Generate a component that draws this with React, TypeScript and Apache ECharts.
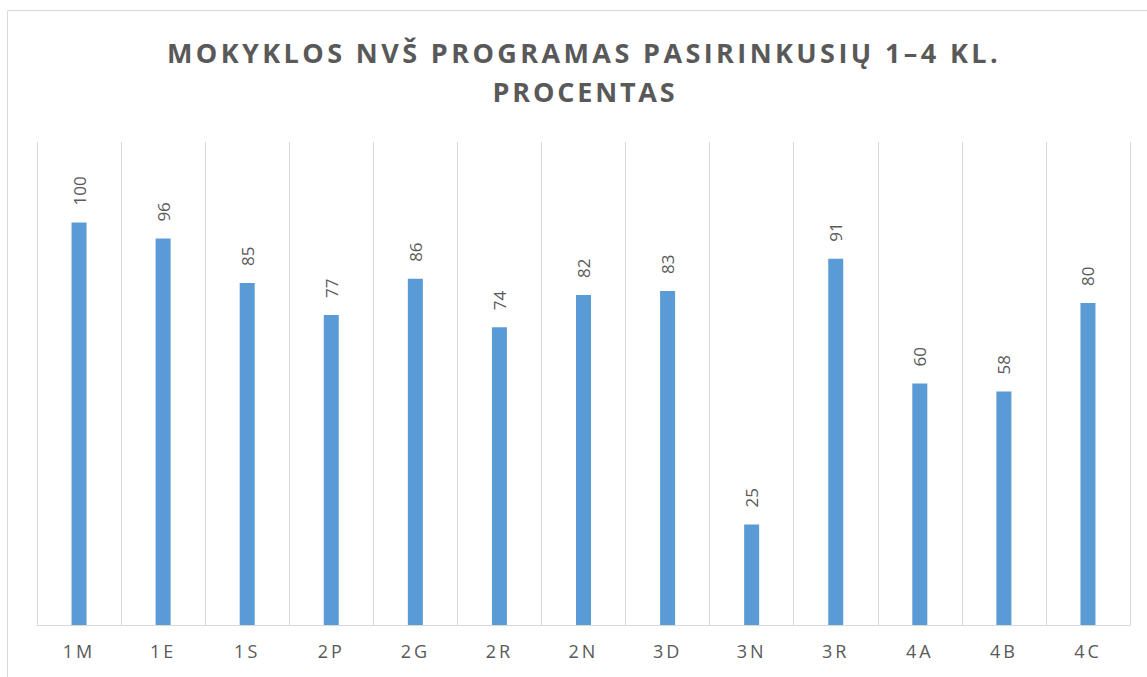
import React, { useEffect, useRef } from "react";
import * as echarts from "echarts";

const titleLine1 = "MOKYKLOS NVŠ PROGRAMAS PASIRINKUSIŲ 1–4 KL.";
const titleLine2 = "PROCENTAS";
const categories = ["1M", "1E", "1S", "2P", "2G", "2R", "2N", "3D", "3N", "3R", "4A", "4B", "4C"];
const values = [100, 96, 85, 77, 86, 74, 82, 83, 25, 91, 60, 58, 80];

const FONT = "'Open Sans', 'Noto Sans', sans-serif";

export default function App() {
  const ref = useRef<HTMLDivElement>(null);

  useEffect(() => {
    if (!ref.current) return;
    const chart = echarts.init(ref.current, undefined, { renderer: "svg" });
    const titleStyle = {
      fontFamily: FONT,
      fontSize: 27,
      fontWeight: "bold",
      fill: "#595959",
      align: "center",
      verticalAlign: "middle",
    };
    chart.setOption({
      animation: false,
      backgroundColor: "#ffffff",
      graphic: [
        {
          type: "rect",
          shape: { x: 7.5, y: 10.5, width: 1200, height: 700 },
          style: { fill: "none", stroke: "#D9D9D9", lineWidth: 1 },
          silent: true,
          z: -10,
        },
        {
          type: "text",
          x: 584,
          y: 52,
          silent: true,
          style: { ...titleStyle, text: titleLine1 },
        },
        {
          type: "text",
          x: 585,
          y: 91,
          silent: true,
          style: { ...titleStyle, text: titleLine2 },
        },
      ],
      grid: { left: 37, right: 17, top: 142, bottom: 52 },
      xAxis: {
        type: "category",
        data: categories,
        axisLine: { show: true, lineStyle: { color: "#D9D9D9", width: 1 } },
        axisTick: { show: false },
        splitLine: { show: true, lineStyle: { color: "#D9D9D9", width: 1 } },
        axisLabel: {
          fontFamily: FONT,
          fontSize: 18,
          color: "#595959",
          margin: 17,
        },
      },
      yAxis: {
        type: "value",
        min: 0,
        max: 120,
        show: false,
        splitLine: { show: false },
      },
      series: [
        {
          type: "bar",
          data: values,
          barWidth: 15,
          itemStyle: { color: "#5B9BD5" },
          label: {
            show: true,
            position: "top",
            rotate: 90,
            align: "left",
            verticalAlign: "middle",
            distance: 17,
            fontFamily: FONT,
            fontSize: 17,
            color: "#595959",
          },
        },
      ],
    });

    const applySpacing = () => {
      const root = ref.current;
      if (!root) return;
      root.querySelectorAll("text").forEach((t) => {
        const s = t.textContent || "";
        if (s === titleLine1) {
          t.setAttribute("letter-spacing", "3.4px");
        } else if (s === titleLine2) {
          t.setAttribute("letter-spacing", "2.8px");
        } else if (categories.includes(s)) {
          t.setAttribute("letter-spacing", "3px");
        }
      });
    };
    applySpacing();
    chart.on("rendered", applySpacing);

    return () => {
      chart.dispose();
    };
  }, []);

  return (
    <div
      ref={ref}
      style={{ position: "fixed", left: 0, top: 0, width: 1147, height: 677 }}
    />
  );
}
